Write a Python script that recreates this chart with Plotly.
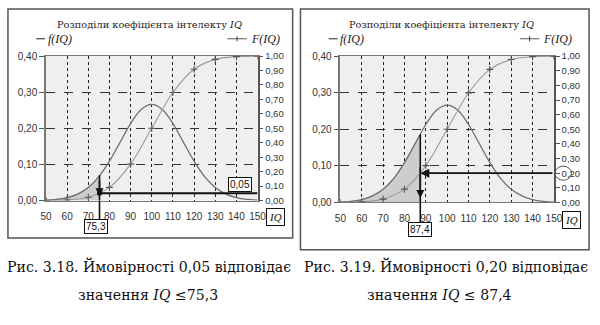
import plotly.graph_objects as go

# ---------------- data ----------------
iq_pdf = [50, 55, 60, 65, 70, 75, 80, 85, 90, 95, 100, 105, 110, 115, 120, 125, 130, 135, 140, 145, 150]
f_vals = [0.001, 0.003, 0.008, 0.018, 0.036, 0.066, 0.109, 0.161, 0.213, 0.252, 0.266,
          0.252, 0.213, 0.161, 0.109, 0.066, 0.036, 0.018, 0.008, 0.003, 0.001]
iq_cdf = [50, 60, 70, 80, 90, 100, 110, 120, 130, 140, 150]
F_vals = [0.0004, 0.004, 0.023, 0.091, 0.252, 0.5, 0.748, 0.909, 0.977, 0.996, 1.0]
x_ticks = [50, 60, 70, 80, 90, 100, 110, 120, 130, 140, 150]

# the two cases: probability -> IQ cut
cases = [
    {"p": 0.05, "iq": 75.3, "f": 0.07, "p_lbl": "0,05", "iq_lbl": "75,3"},
    {"p": 0.20, "iq": 87.4, "f": 0.186, "p_lbl": "0,20", "iq_lbl": "87,4"},
]
title_txt = "Розподіли коефіцієнта інтелекту <i>IQ</i>"
captions = [
    ("Рис. 3.18. Ймовірності 0,05 відповідає", "значення <i>IQ</i> ≤75,3"),
    ("Рис. 3.19. Ймовірності 0,20 відповідає", "значення <i>IQ</i> ≤ 87,4"),
]

W, H = 600, 325
def px(x): return x / W
def py(y): return 1 - y / H

fig = go.Figure()

TICKFONT = dict(family="Liberation Sans", size=10, color="#333")
SERIF = "Liberation Serif"
CYR_SERIF = "DejaVu Serif"

# chart geometry (pixels)
charts = [
    dict(xa="x", ya="y", ya2="y2", xl=41, xr=258, yt=52, yb=202, box=(2, 3, 294, 241), xoff=0,
         cap1=147, cap2=146),
    dict(xa="x2", ya="y3", ya2="y4", xl=343, xr=562, yt=52, yb=204, box=(302, 3, 598, 253), xoff=300,
         cap1=451, cap2=445),
]

shapes = []
annotations = []

def note(**kw):
    kw.setdefault("xanchor", "center")
    kw.setdefault("yanchor", "middle")
    kw.setdefault("showarrow", False)
    annotations.append(kw)

for i, (ch, cs) in enumerate(zip(charts, cases)):
    xa, ya, ya2 = ch["xa"], ch["ya"], ch["ya2"]
    cut = cs["iq"]
    # shaded area under f up to cut
    fx = [v for v in iq_pdf if v < cut] + [cut]
    fy = [f_vals[k] for k, v in enumerate(iq_pdf) if v < cut] + [cs["f"]]
    fig.add_trace(go.Scatter(x=fx, y=fy, xaxis=xa, yaxis=ya, mode="lines",
                             line=dict(color="#9a9a9a", width=0.8, shape="spline"),
                             fill="tozeroy", fillcolor="#cdcdcd", showlegend=False, hoverinfo="skip"))
    # f curve
    fig.add_trace(go.Scatter(x=iq_pdf, y=f_vals, xaxis=xa, yaxis=ya, mode="lines",
                             line=dict(color="#6e6e6e", width=1.3, shape="spline"),
                             showlegend=False, name="f(IQ)"))
    # F curve
    fig.add_trace(go.Scatter(x=iq_cdf, y=F_vals, xaxis=xa, yaxis=ya2, mode="lines+markers",
                             line=dict(color="#9a9a9a", width=1.1, shape="spline"),
                             marker=dict(symbol="cross-thin", size=5, line=dict(color="#555", width=1.1)),
                             showlegend=False, name="F(IQ)"))
    # vertical line at cut inside plot
    fig.add_trace(go.Scatter(x=[cut, cut], y=[cs["f"], 0], xaxis=xa, yaxis=ya, mode="lines",
                             line=dict(color="#111", width=1.6), showlegend=False, hoverinfo="skip"))
    # extension below axis to the label box
    ext = -((227 if i else 226) - ch["yb"]) / (ch["yb"] - ch["yt"])
    shapes.append(dict(type="line", xref=xa, yref=ya + " domain", x0=cut, x1=cut, y0=0, y1=ext,
                       line=dict(color="#111", width=1.6)))
    # horizontal line at probability
    if i == 0:
        fig.add_trace(go.Scatter(x=[cut, 150], y=[cs["p"], cs["p"]], xaxis=xa, yaxis=ya2, mode="lines",
                                 line=dict(color="#111", width=2), showlegend=False, hoverinfo="skip"))
        fig.add_trace(go.Scatter(x=[cut], y=[cs["p"]], xaxis=xa, yaxis=ya2, mode="markers",
                                 marker=dict(color="#111", size=5), showlegend=False, hoverinfo="skip"))
    else:
        annotations.append(dict(x=cut, y=cs["p"], xref=xa, yref=ya2, ax=150, ay=cs["p"],
                                axref=xa, ayref=ya2, showarrow=True, arrowhead=2, arrowsize=1,
                                arrowwidth=1.8, arrowcolor="#111", text=""))
    # down arrow at cut
    annotations.append(dict(x=cut, y=0.012, xref=xa, yref=ya, ax=cut, ay=0.06 if i == 0 else 0.1,
                            axref=xa, ayref=ya, showarrow=True, arrowhead=2, arrowsize=1,
                            arrowwidth=1.6, arrowcolor="#111", text=""))
    # boxes
    ybox = 229 if i == 0 else 232
    note(x=cut - (1.5 if i == 0 else 0), y=py(ybox), xref=xa, yref="paper",
         text=cs["iq_lbl"], font=dict(family="Liberation Sans", size=10, color="#111"),
         bordercolor="#111", borderwidth=1, borderpad=1, bgcolor="white")
    note(x=px(ch["xr"] + 18), y=py(219 if i == 0 else 222), xref="paper", yref="paper",
         text="<i>IQ</i>", font=dict(family=SERIF, size=11, color="#111"),
         bordercolor="#111", borderwidth=1, borderpad=2, bgcolor="white")
    if i == 0:
        note(x=141.5, y=0.113, xref=xa, yref=ya2, text=cs["p_lbl"],
             font=dict(family="Liberation Sans", size=10, color="#111"),
             bordercolor="#111", borderwidth=1, borderpad=1, bgcolor="white")
    else:
        shapes.append(dict(type="circle", xref=xa + " domain", yref=ya2, x0=1.005, x1=1.082,
                           y0=cs["p"] - 0.048, y1=cs["p"] + 0.048, line=dict(color="#555", width=1)))
    # outer box
    bx0, by0, bx1, by1 = ch["box"]
    shapes.append(dict(type="rect", xref="paper", yref="paper", x0=px(bx0), x1=px(bx1),
                       y0=py(by1), y1=py(by0), line=dict(color="#555", width=1.5), layer="below"))
    o = ch["xoff"]
    # title
    note(x=px(o + 147), y=py(19), xref="paper", yref="paper", text=title_txt,
         font=dict(family=CYR_SERIF, size=9.8, color="#222"))
    # legends
    shapes.append(dict(type="line", xref="paper", yref="paper", x0=px(o + 31), x1=px(o + 40),
                       y0=py(34), y1=py(34), line=dict(color="#444", width=1.2)))
    note(x=px(o + 41), y=py(34), xref="paper", yref="paper", text="<i>f(IQ)</i>",
         xanchor="left", font=dict(family=SERIF, size=12, color="#222"))
    shapes.append(dict(type="line", xref="paper", yref="paper", x0=px(o + 227), x1=px(o + 247),
                       y0=py(34), y1=py(34), line=dict(color="#666", width=1.1)))
    shapes.append(dict(type="line", xref="paper", yref="paper", x0=px(o + 237), x1=px(o + 237),
                       y0=py(31.5), y1=py(36.5), line=dict(color="#444", width=1.1)))
    note(x=px(o + 249), y=py(34), xref="paper", yref="paper", text="<i>F(IQ)</i>",
         xanchor="left", font=dict(family=SERIF, size=12, color="#222"))
    # captions
    note(x=px(ch["cap1"]), y=py(270), xref="paper", yref="paper", text=captions[i][0],
         font=dict(family=CYR_SERIF, size=14.1, color="#111"))
    note(x=px(ch["cap2"]), y=py(300), xref="paper", yref="paper", text=captions[i][1],
         font=dict(family=CYR_SERIF, size=14.1, color="#111"))

def xaxis_cfg(ch, anchor):
    return dict(domain=[px(ch["xl"]), px(ch["xr"])], range=[50, 150], anchor=anchor,
                tickvals=x_ticks, ticktext=[str(v) for v in x_ticks], tickfont=TICKFONT,
                showgrid=True, gridcolor="#222", griddash="dot", gridwidth=1.3,
                showline=True, linecolor="#777", linewidth=1.2, mirror=True,
                ticks="", ticklabelstandoff=6, zeroline=False, fixedrange=True)

def yaxis_cfg(ch, anchor):
    return dict(domain=[py(ch["yb"]), py(ch["yt"])], range=[0, 0.4], anchor=anchor,
                tickvals=[0, 0.1, 0.2, 0.3, 0.4], tickformat=".2f", tickfont=TICKFONT,
                showgrid=True, gridcolor="#333", griddash="dash", gridwidth=1.1,
                showline=True, linecolor="#777", linewidth=1.5,
                ticks="outside", ticklen=5, tickcolor="#555", zeroline=False, fixedrange=True)

def y2_cfg(ch, overlay, anchor):
    return dict(range=[0, 1], overlaying=overlay, side="right", anchor=anchor,
                tickvals=[round(0.1 * k, 1) for k in range(11)], tickformat=".2f", tickfont=dict(TICKFONT, size=9.5),
                showgrid=False, showline=True, linecolor="#555", linewidth=1.5,
                ticks="outside", ticklen=4, tickcolor="#555", zeroline=False, fixedrange=True)

fig.update_layout(
    width=W, height=H, margin=dict(l=0, r=0, t=0, b=0),
    paper_bgcolor="white", plot_bgcolor="#efefef",
    separators=", ",
    showlegend=False,
    xaxis=xaxis_cfg(charts[0], "y"),
    yaxis=yaxis_cfg(charts[0], "x"),
    yaxis2=y2_cfg(charts[0], "y", "x"),
    xaxis2=xaxis_cfg(charts[1], "y3"),
    yaxis3=yaxis_cfg(charts[1], "x2"),
    yaxis4=y2_cfg(charts[1], "y3", "x2"),
    shapes=shapes,
    annotations=annotations,
)

fig.write_html("out.html")
